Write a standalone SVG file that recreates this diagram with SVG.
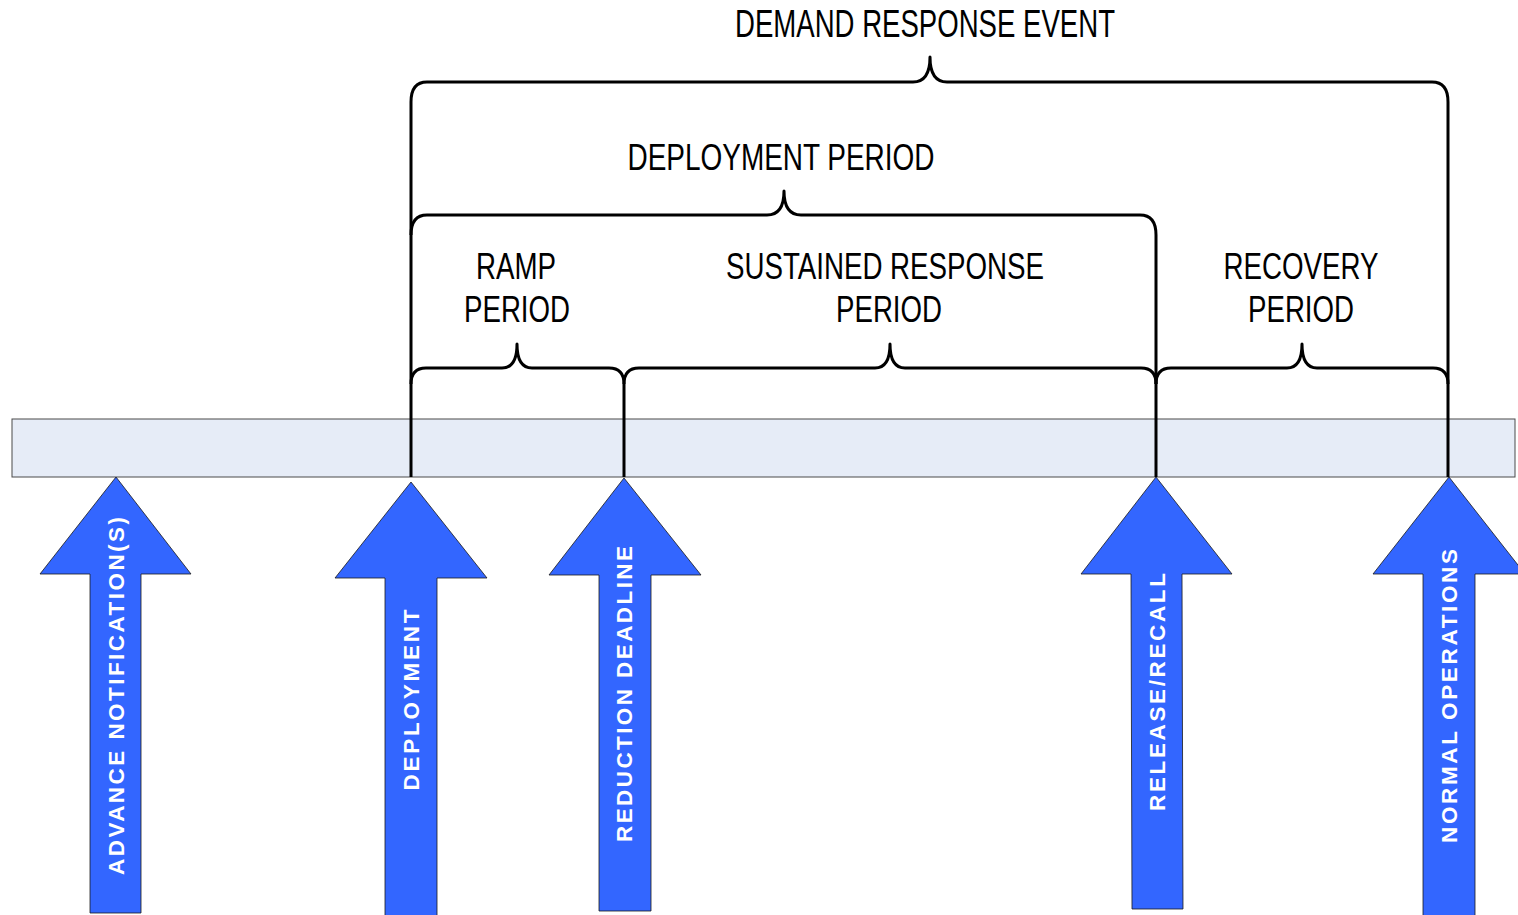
<svg xmlns="http://www.w3.org/2000/svg" width="1518" height="915" viewBox="0 0 1518 915">
  <style>
    .label { font-family: "Liberation Sans", Arial, sans-serif; fill: #000; text-anchor: middle; }
    .brace { fill: none; stroke: #000; stroke-width: 3; stroke-linejoin: round; stroke-linecap: butt; }
    .arrow { fill: #3366FF; stroke: #1a1a1a; stroke-width: 0.8; }
    .atext { font-family: "Liberation Sans", Arial, sans-serif; font-weight: bold; font-size: 22.5px; fill: #fff; text-anchor: middle; }
    .bar { fill: #E6ECF7; stroke: #4a4a4a; stroke-width: 1; }
  </style>
  <rect x="0" y="0" width="1518" height="915" fill="#fff"/>

  <g id="timeline">
    <rect class="bar" x="12" y="419" width="1503" height="58"/>
  </g>

  <g id="connectors">
    <path class="brace" d="M411,477 V102 Q411,82 427,82 H913 Q930,82 930,57 Q930,82 947,82 H1432 Q1448,82 1448,102 V477"/>
    <path class="brace" d="M411,235 Q411,215 427,215 H767 Q784,215 784,191 Q784,215 801,215 H1140 Q1156,215 1156,235 V477"/>
    <path class="brace" d="M411,384 Q411,368 426,368 H502 Q517,368 517,344 Q517,368 532,368 H609 Q624,368 624,384 V477"/>
    <path class="brace" d="M624,384 Q624,368 639,368 H875 Q890,368 890,344 Q890,368 905,368 H1141 Q1156,368 1156,384"/>
    <path class="brace" d="M1156,384 Q1156,368 1171,368 H1287 Q1302,368 1302,344 Q1302,368 1317,368 H1433 Q1448,368 1448,384"/>
  </g>

  <g id="demand-response-event">
    <text class="label" x="925" y="37" font-size="39" textLength="380" lengthAdjust="spacingAndGlyphs">DEMAND RESPONSE EVENT</text>
  </g>
  <g id="deployment-period">
    <text class="label" x="781" y="170" font-size="37" textLength="307" lengthAdjust="spacingAndGlyphs">DEPLOYMENT PERIOD</text>
  </g>
  <g id="ramp-period">
    <text class="label" x="516" y="279" font-size="36" textLength="80" lengthAdjust="spacingAndGlyphs">RAMP</text>
    <text class="label" x="517" y="322" font-size="36" textLength="106" lengthAdjust="spacingAndGlyphs">PERIOD</text>
  </g>
  <g id="sustained-response-period">
    <text class="label" x="885" y="279" font-size="36" textLength="318" lengthAdjust="spacingAndGlyphs">SUSTAINED RESPONSE</text>
    <text class="label" x="889" y="322" font-size="36" textLength="106" lengthAdjust="spacingAndGlyphs">PERIOD</text>
  </g>
  <g id="recovery-period">
    <text class="label" x="1301" y="279" font-size="36" textLength="155" lengthAdjust="spacingAndGlyphs">RECOVERY</text>
    <text class="label" x="1301" y="322" font-size="36" textLength="106" lengthAdjust="spacingAndGlyphs">PERIOD</text>
  </g>

  <g id="advance-notification">
    <polygon class="arrow" points="116,477 191,574 141,574 141,913 90,913 90,574 40,574"/>
    <text class="atext" transform="translate(116,696) rotate(-90)" x="0" y="8" textLength="358">ADVANCE NOTIFICATION(S)</text>
  </g>
  <g id="deployment">
    <polygon class="arrow" points="411,482 487,578 437,578 437,918 385,918 385,578 335,578"/>
    <text class="atext" transform="translate(411,700) rotate(-90)" x="0" y="8" textLength="181">DEPLOYMENT</text>
  </g>
  <g id="reduction-deadline">
    <polygon class="arrow" points="624,478 701,575 651,575 651,911 599,911 599,575 549,575"/>
    <text class="atext" transform="translate(624,694) rotate(-90)" x="0" y="8" textLength="296">REDUCTION DEADLINE</text>
  </g>
  <g id="release-recall">
    <polygon class="arrow" points="1156,477 1232,574 1182,574 1183,909 1132,909 1131,574 1081,574"/>
    <text class="atext" transform="translate(1157,692) rotate(-90)" x="0" y="8" textLength="238">RELEASE/RECALL</text>
  </g>
  <g id="normal-operations">
    <polygon class="arrow" points="1449,477 1525,574 1475,574 1475,918 1423,918 1423,574 1373,574"/>
    <text class="atext" transform="translate(1449,696) rotate(-90)" x="0" y="8" textLength="294">NORMAL OPERATIONS</text>
  </g>
</svg>
